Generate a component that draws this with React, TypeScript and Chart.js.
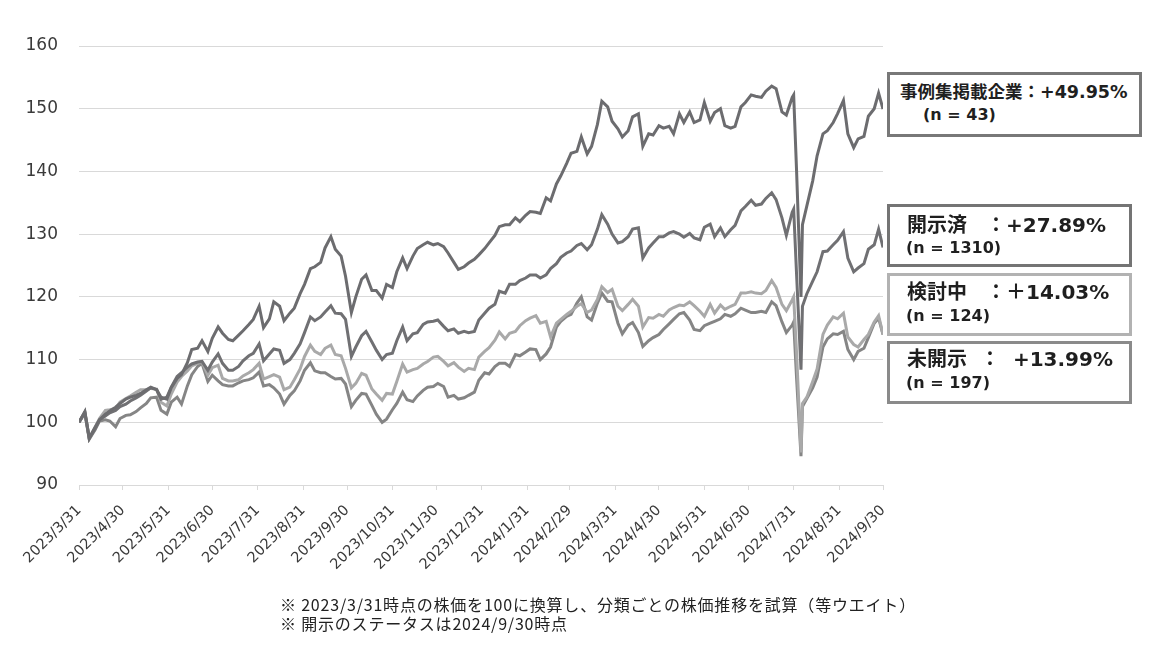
import { useEffect, useRef } from "react";
import { Chart, registerables } from "chart.js";
Chart.register(...registerables);

// Observation dates (roughly twice a week)
const dates: string[] = [
  "2023/3/31",
  "2023/4/4", "2023/4/7", "2023/4/11", "2023/4/14", "2023/4/18", "2023/4/21", "2023/4/25", "2023/4/28",
  "2023/5/2", "2023/5/5", "2023/5/9", "2023/5/12", "2023/5/16", "2023/5/19", "2023/5/23", "2023/5/26", "2023/5/30",
  "2023/6/2", "2023/6/6", "2023/6/9", "2023/6/13", "2023/6/16", "2023/6/20", "2023/6/23", "2023/6/27", "2023/6/30",
  "2023/7/4", "2023/7/7", "2023/7/11", "2023/7/14", "2023/7/18", "2023/7/21", "2023/7/25", "2023/7/28",
  "2023/8/1", "2023/8/4", "2023/8/8", "2023/8/11", "2023/8/15", "2023/8/18", "2023/8/22", "2023/8/25", "2023/8/29",
  "2023/9/1", "2023/9/5", "2023/9/8", "2023/9/12", "2023/9/15", "2023/9/19", "2023/9/22", "2023/9/26", "2023/9/29",
  "2023/10/3", "2023/10/6", "2023/10/10", "2023/10/13", "2023/10/17", "2023/10/20", "2023/10/24", "2023/10/27", "2023/10/31",
  "2023/11/3", "2023/11/7", "2023/11/10", "2023/11/14", "2023/11/17", "2023/11/21", "2023/11/24", "2023/11/28",
  "2023/12/1", "2023/12/5", "2023/12/8", "2023/12/12", "2023/12/15", "2023/12/19", "2023/12/22", "2023/12/26", "2023/12/29",
  "2024/1/2", "2024/1/5", "2024/1/9", "2024/1/12", "2024/1/16", "2024/1/19", "2024/1/23", "2024/1/26", "2024/1/30",
  "2024/2/2", "2024/2/6", "2024/2/9", "2024/2/13", "2024/2/16", "2024/2/20", "2024/2/23", "2024/2/27",
  "2024/3/1", "2024/3/5", "2024/3/8", "2024/3/12", "2024/3/15", "2024/3/19", "2024/3/22", "2024/3/26", "2024/3/29",
  "2024/4/2", "2024/4/5", "2024/4/9", "2024/4/12", "2024/4/16", "2024/4/19", "2024/4/23", "2024/4/26", "2024/4/30",
  "2024/5/3", "2024/5/7", "2024/5/10", "2024/5/14", "2024/5/17", "2024/5/21", "2024/5/24", "2024/5/28", "2024/5/31",
  "2024/6/4", "2024/6/7", "2024/6/11", "2024/6/14", "2024/6/18", "2024/6/21", "2024/6/25", "2024/6/28",
  "2024/7/2", "2024/7/5", "2024/7/9", "2024/7/12", "2024/7/16", "2024/7/19", "2024/7/23", "2024/7/26", "2024/7/30", "2024/7/31",
  "2024/8/2", "2024/8/5", "2024/8/6", "2024/8/9", "2024/8/13", "2024/8/16", "2024/8/20", "2024/8/23", "2024/8/27", "2024/8/30",
  "2024/9/3", "2024/9/6", "2024/9/10", "2024/9/13", "2024/9/17", "2024/9/20", "2024/9/24", "2024/9/27", "2024/9/30",
];

// 事例集掲載企業
const jireiValues: number[] = [
  100,
  101.7, 97.5, 99.2, 100.4, 101.3, 101.8, 102.4, 103.0,
  103.7, 104.0, 104.3, 104.6, 105.2, 105.6, 105.2, 104.0, 103.7,
  105.5, 107.0, 107.6, 109.5, 111.6, 111.8, 113.0, 111.3, 113.4,
  115.2, 114.2, 113.2, 113.0, 113.9, 114.6, 115.6, 116.4,
  118.5, 115.1, 116.5, 119.2, 118.5, 116.2, 117.4, 118.2, 120.5,
  122.0, 124.5, 124.8, 125.5, 127.8, 129.6, 127.6, 126.5, 123.3,
  117.5, 120.0, 122.8, 123.5, 121.0, 121.0, 119.8, 122.0, 121.5,
  124.0, 126.2, 124.5, 126.5, 127.7, 128.3, 128.7, 128.3,
  128.5, 128.0, 127.0, 125.5, 124.4, 124.8, 125.4, 126.0, 126.7,
  127.7, 128.6, 129.8, 131.2, 131.5, 131.5, 132.6, 132.0, 133.0,
  133.6, 133.5, 133.3, 135.8, 135.3, 138.0, 139.3, 141.3,
  142.9, 143.2, 145.5, 142.8, 144.0, 147.5, 151.2, 150.3, 148.0,
  146.8, 145.5, 146.5, 148.7, 149.2, 144.0, 146.0, 145.8, 147.3,
  146.9, 147.2, 146.0, 149.2, 147.8, 149.5, 147.8, 148.2, 151.0,
  148.0, 149.4, 150.0, 147.3, 146.9, 147.2, 150.3, 151.0,
  152.2, 152.0, 151.8, 152.8, 153.6, 153.2, 149.5, 149.0, 151.8, 152.2,
  140.0, 120.0, 131.5, 134.5, 138.5, 142.5, 146.0, 146.5, 147.8, 149.2,
  151.3, 146.0, 143.8, 145.2, 145.6, 148.8, 150.0, 152.5, 149.95,
];

// 開示済
const kaijiValues: number[] = [
  100,
  101.6, 97.4, 99.0, 100.4, 101.0, 101.5, 101.9, 102.5,
  102.9, 103.4, 103.9, 104.3, 105.0, 105.5, 105.2, 103.7, 104.0,
  105.6, 107.3, 107.9, 108.8, 109.3, 109.6, 109.7, 108.3, 109.6,
  110.9, 109.4, 108.3, 108.3, 108.9, 109.8, 110.6, 111.0,
  112.5, 109.8, 110.9, 111.7, 111.5, 109.4, 110.0, 111.0, 112.5,
  114.3, 116.8, 116.2, 116.8, 117.6, 118.6, 117.4, 117.3, 116.4,
  110.5, 112.0, 113.8, 114.5, 112.8, 111.5, 110.0, 110.8, 111.0,
  113.0, 115.2, 113.0, 114.1, 114.3, 115.6, 116.0, 116.1,
  116.3, 115.3, 114.6, 114.9, 114.2, 114.5, 114.3, 114.5, 116.3,
  117.4, 118.2, 118.8, 120.9, 120.6, 122.0, 122.0, 122.6, 123.0,
  123.5, 123.5, 123.0, 123.5, 124.5, 125.3, 126.3, 127.0,
  127.3, 128.2, 128.5, 127.5, 128.3, 130.8, 133.1, 131.6, 130.0,
  128.6, 128.8, 129.6, 130.8, 131.0, 126.2, 127.8, 128.6, 129.6,
  129.6, 130.2, 130.4, 130.0, 129.5, 130.1, 129.4, 129.1, 131.1,
  131.6, 129.6, 131.0, 129.6, 130.7, 131.4, 133.7, 134.4,
  135.4, 134.6, 134.8, 135.7, 136.6, 135.5, 132.6, 129.8, 133.5, 134.0,
  123.5, 108.4, 118.5, 120.5, 122.5, 124.0, 127.2, 127.3, 128.3, 129.0,
  130.4, 126.2, 124.0, 124.6, 125.3, 127.6, 128.3, 130.8, 127.89,
];

// 検討中
const kentoValues: number[] = [
  100,
  101.6, 97.4, 99.2, 100.6, 101.9, 102.0, 102.2, 103.2,
  103.8, 104.2, 104.8, 105.2, 105.2, 105.4, 105.3, 103.2, 102.6,
  104.5, 106.4, 107.3, 108.2, 109.0, 109.4, 109.6, 107.5, 108.7,
  109.1, 107.0, 106.6, 106.6, 106.8, 107.4, 107.9, 108.4,
  109.4, 106.9, 107.3, 107.6, 107.2, 105.2, 105.6, 106.8, 108.5,
  110.5, 112.3, 111.3, 110.8, 111.8, 112.3, 110.8, 110.6, 108.6,
  105.5, 106.2, 107.8, 107.5, 105.3, 104.5, 103.5, 104.6, 104.5,
  106.5, 109.3, 108.0, 108.4, 108.6, 109.3, 109.7, 110.4,
  110.5, 109.7, 109.0, 109.5, 108.8, 108.1, 108.6, 108.4, 110.4,
  111.3, 111.9, 113.1, 114.4, 113.3, 114.2, 114.5, 115.4, 116.2,
  116.6, 117.0, 115.8, 116.1, 113.6, 115.8, 116.4, 117.2,
  117.7, 118.5, 118.9, 117.5, 117.9, 119.6, 121.6, 120.7, 121.2,
  118.5, 117.8, 118.8, 119.6, 118.5, 115.2, 116.7, 116.6, 117.2,
  116.9, 117.9, 118.3, 118.7, 118.6, 119.2, 118.6, 117.7, 116.9,
  118.8, 117.4, 118.7, 118.0, 118.5, 118.8, 120.6, 120.6,
  120.8, 120.6, 120.5, 121.0, 122.6, 121.5, 118.8, 117.8, 119.5, 120.0,
  111.0, 95.2, 103.0, 104.0, 106.5, 108.5, 114.0, 115.5, 116.8, 116.5,
  117.4, 113.6, 112.4, 112.0, 113.2, 114.0, 116.0, 117.0, 114.03,
];

// 未開示
const mikaijiValues: number[] = [
  100,
  101.4, 97.3, 98.8, 100.2, 100.4, 100.2, 99.3, 100.6,
  101.1, 101.2, 101.7, 102.3, 103.0, 103.9, 104.0, 101.9, 101.3,
  103.2, 104.0, 102.9, 105.8, 107.6, 108.9, 109.4, 106.5, 107.5,
  106.6, 106.0, 105.8, 105.8, 106.3, 106.6, 106.8, 107.1,
  108.0, 105.8, 106.0, 105.5, 104.5, 102.9, 104.3, 105.0, 106.6,
  108.3, 109.5, 108.2, 107.9, 107.9, 107.3, 106.9, 107.0, 106.1,
  102.5, 103.5, 104.6, 104.5, 102.7, 101.3, 100.0, 100.5, 102.0,
  103.0, 104.8, 103.6, 103.3, 104.2, 105.1, 105.6, 105.7,
  106.2, 105.7, 104.0, 104.3, 103.7, 103.9, 104.3, 104.8, 106.7,
  107.9, 107.7, 108.9, 109.4, 109.4, 108.9, 110.8, 110.6, 111.2,
  111.7, 111.6, 110.0, 110.9, 112.0, 115.2, 116.1, 116.9,
  117.2, 119.0, 120.0, 116.8, 116.3, 119.0, 120.6, 119.3, 119.2,
  115.8, 114.1, 115.5, 115.9, 114.3, 112.1, 113.0, 113.5, 114.0,
  114.8, 115.7, 116.4, 117.3, 117.5, 116.3, 114.8, 114.6, 115.4,
  115.8, 116.1, 116.5, 117.2, 116.9, 117.3, 118.2, 117.9,
  117.5, 117.5, 117.7, 117.5, 119.2, 118.6, 116.0, 114.3, 115.5, 116.0,
  107.0, 94.6, 102.5, 103.8, 105.5, 107.2, 112.0, 113.3, 114.1, 114.0,
  114.5, 111.6, 110.0, 111.3, 111.8, 113.5, 115.8, 116.6, 113.99,
];

const tickLabels: string[] = [
  "2023/3/31", "2023/4/30", "2023/5/31", "2023/6/30", "2023/7/31", "2023/8/31",
  "2023/9/30", "2023/10/31", "2023/11/30", "2023/12/31", "2024/1/31", "2024/2/29",
  "2024/3/31", "2024/4/30", "2024/5/31", "2024/6/30", "2024/7/31", "2024/8/31", "2024/9/30",
];

const seriesNames = ["事例集掲載企業", "開示済", "検討中", "未開示"];
const seriesColors = ["#6c6c6f", "#707073", "#a9a9a9", "#858585"];

const Y_MIN = 90;
const Y_MAX = 160;
const Y_STEP = 10;

function dayIndex(s: string): number {
  const [y, m, d] = s.split("/").map(Number);
  return (Date.UTC(y, m - 1, d) - Date.UTC(2023, 2, 31)) / 86400000;
}

const boxStyle = (top: number, height: number, width: number, color: string): React.CSSProperties => ({
  position: "absolute",
  left: 887,
  top,
  width,
  height,
  boxSizing: "border-box",
  border: `3px solid ${color}`,
  background: "#fff",
});

const txt = (left: number, top: number, size: number, wordSpacing = 0): React.CSSProperties => ({
  position: "absolute",
  left,
  top,
  fontSize: size,
  lineHeight: `${size}px`,
  fontWeight: "bold",
  whiteSpace: "pre",
  wordSpacing,
  color: "#1f1f1f",
  fontFamily: '"DejaVu Sans", "Noto Sans CJK JP", sans-serif',
});

export default function App() {
  const ref = useRef<HTMLCanvasElement | null>(null);

  useEffect(() => {
    document.body.style.margin = "0";
    const canvas = ref.current;
    if (!canvas) return;
    const valueSets = [jireiValues, kaijiValues, kentoValues, mikaijiValues];
    const tickDays = tickLabels.map(dayIndex);
    const chart = new Chart(canvas, {
      type: "line",
      data: {
        datasets: valueSets.map((vals, k) => ({
          label: seriesNames[k],
          data: dates.map((d, i) => ({ x: dayIndex(d), y: vals[i] })),
          borderColor: seriesColors[k],
          backgroundColor: seriesColors[k],
          borderWidth: 3,
          pointRadius: 0,
          tension: 0,
          fill: false,
        })),
      },
      options: {
        responsive: false,
        animation: false,
        layout: { padding: { left: 0, right: 275, top: 46, bottom: 0 } },
        plugins: { legend: { display: false }, tooltip: { enabled: false } },
        scales: {
          x: {
            type: "linear",
            min: tickDays[0],
            max: tickDays[tickDays.length - 1],
            afterBuildTicks: (scale: any) => {
              scale.ticks = tickDays.map((v) => ({ value: v }));
            },
            afterFit: (scale: any) => {
              scale.height = 166;
            },
            ticks: {
              autoSkip: false,
              maxRotation: 45,
              minRotation: 45,
              padding: 12,
              color: "#3a3a3a",
              font: { family: '"DejaVu Sans", sans-serif', size: 14.5 },
              callback: (_v: any, i: number) => tickLabels[i],
            },
            grid: { drawOnChartArea: false, drawTicks: true, tickLength: 5, color: "#d9d9d9" },
            border: { color: "#d9d9d9", width: 1 },
          },
          y: {
            min: Y_MIN,
            max: Y_MAX,
            afterFit: (scale: any) => {
              scale.width = 79;
            },
            ticks: {
              stepSize: Y_STEP,
              padding: 21,
              color: "#3a3a3a",
              font: { family: '"DejaVu Sans", sans-serif', size: 17 },
            },
            grid: { color: "#d9d9d9", drawTicks: false, lineWidth: 1 },
            border: { display: false },
          },
        },
      },
    } as any);
    return () => chart.destroy();
  }, []);

  return (
    <div style={{ position: "relative", width: 1158, height: 651, background: "#fff", overflow: "hidden" }}>
      <canvas ref={ref} width={1158} height={651} style={{ position: "absolute", left: 0, top: 0 }} />

      <div style={boxStyle(72, 65, 255, "#787878")} />
      <div style={txt(900, 84, 17.5)}>事例集掲載企業：+49.95%</div>
      <div style={txt(923, 106.5, 16)}>(n = 43)</div>

      <div style={boxStyle(204, 63, 245, "#747474")} />
      <div style={txt(907, 215, 20, 12)}>開示済 ：+27.89%</div>
      <div style={txt(906, 239.5, 16)}>(n = 1310)</div>

      <div style={boxStyle(273, 63, 245, "#b2b2b2")} />
      <div style={txt(907, 281.5, 20, 12)}>検討中 ：＋14.03%</div>
      <div style={txt(906, 307.5, 16)}>(n = 124)</div>

      <div style={boxStyle(341, 63, 245, "#8a8a8a")} />
      <div style={txt(907, 349, 20, 6)}>未開示 ： +13.99%</div>
      <div style={txt(906, 374.5, 16)}>(n = 197)</div>

      <div
        style={{
          position: "absolute",
          left: 280,
          top: 595,
          fontSize: 16,
          letterSpacing: "0.8px",
          lineHeight: "19px",
          color: "#222",
          whiteSpace: "nowrap",
          fontFamily: '"Noto Sans CJK JP", sans-serif',
        }}
      >
        <div>※ 2023/3/31時点の株価を100に換算し、分類ごとの株価推移を試算（等ウエイト）</div>
        <div>※ 開示のステータスは2024/9/30時点</div>
      </div>
    </div>
  );
}
